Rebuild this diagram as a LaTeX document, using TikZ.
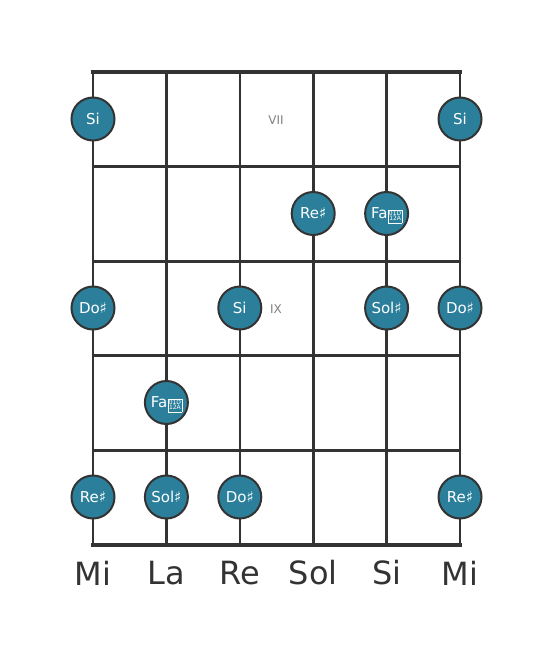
\documentclass[tikz,border=0pt]{standalone}
\usepackage{fontspec}
\setmainfont{DejaVu Sans}
\definecolor{notefill}{HTML}{2B7F9B}
\definecolor{linec}{HTML}{333333}
\definecolor{fretno}{HTML}{808080}
\newcommand{\hexglyph}{{\hspace{0.6pt}\fontsize{6}{6}\selectfont\setlength{\fboxsep}{0.5pt}\setlength{\fboxrule}{0.4pt}\raisebox{0.6pt}[0pt][0pt]{\fbox{\begin{tabular}{@{}c@{}}01D\\[-0.6pt]12A\end{tabular}}}}}
\begin{document}
\begin{tikzpicture}[x=1pt,y=-1pt,
  note/.style={circle,draw=linec,line width=2pt,fill=notefill,minimum size=43pt,inner sep=0pt,text=white,font=\fontsize{15}{17}\selectfont},
  strline/.style={draw=linec,line width=2.6pt},
  fretline/.style={draw=linec,line width=3pt},
  nutline/.style={draw=linec,line width=4pt},
  fretnum/.style={text=fretno,font=\fontsize{12}{13}\selectfont},
  strname/.style={text=linec,font=\fontsize{32}{36}\selectfont}]
\useasboundingbox (0,0) rectangle (553,656);
\def\xa{93}\def\xb{166.4}\def\xc{239.8}\def\xd{313.2}\def\xe{386.6}\def\xf{460}
% strings
\foreach \x in {93,166.4,239.8,313.2,386.6,460}
  \draw[strline] (\x,72) -- (\x,545);
% frets
\draw[nutline,line cap=rect] (93,72) -- (460,72);
\foreach \y in {166.5,261,355.5,450}
  \draw[fretline] (93,\y) -- (460,\y);
\draw[nutline,line cap=rect] (93,545) -- (460,545);
% fret numbers
\node[fretnum] (f7) at (276,120) {VII};
\node[fretnum] (f9) at (276,309) {IX};
% notes
\node[note] (n1) at (\xa,119) {Si};
\node[note] (n2) at (\xf,119) {Si};
\node[note] (n3) at (\xd,213.5) {Re♯};
\node[note] (n4) at (\xe,213.5) {Fa\hexglyph};
\node[note] (n5) at (\xa,308) {Do♯};
\node[note] (n6) at (\xc,308) {Si};
\node[note] (n7) at (\xe,308) {Sol♯};
\node[note] (n8) at (\xf,308) {Do♯};
\node[note] (n9) at (\xb,402.5) {Fa\hexglyph};
\node[note] (n10) at (\xa,497) {Re♯};
\node[note] (n11) at (\xb,497) {Sol♯};
\node[note] (n12) at (\xc,497) {Do♯};
\node[note] (n13) at (\xf,497) {Re♯};
% string names
\node[strname] (s1) at (\xa,573) {Mi};
\node[strname] (s2) at (\xb,573) {La};
\node[strname] (s3) at (\xc,573) {Re};
\node[strname] (s4) at (\xd,573) {Sol};
\node[strname] (s5) at (\xe,573) {Si};
\node[strname] (s6) at (\xf,573) {Mi};
\end{tikzpicture}
\end{document}
